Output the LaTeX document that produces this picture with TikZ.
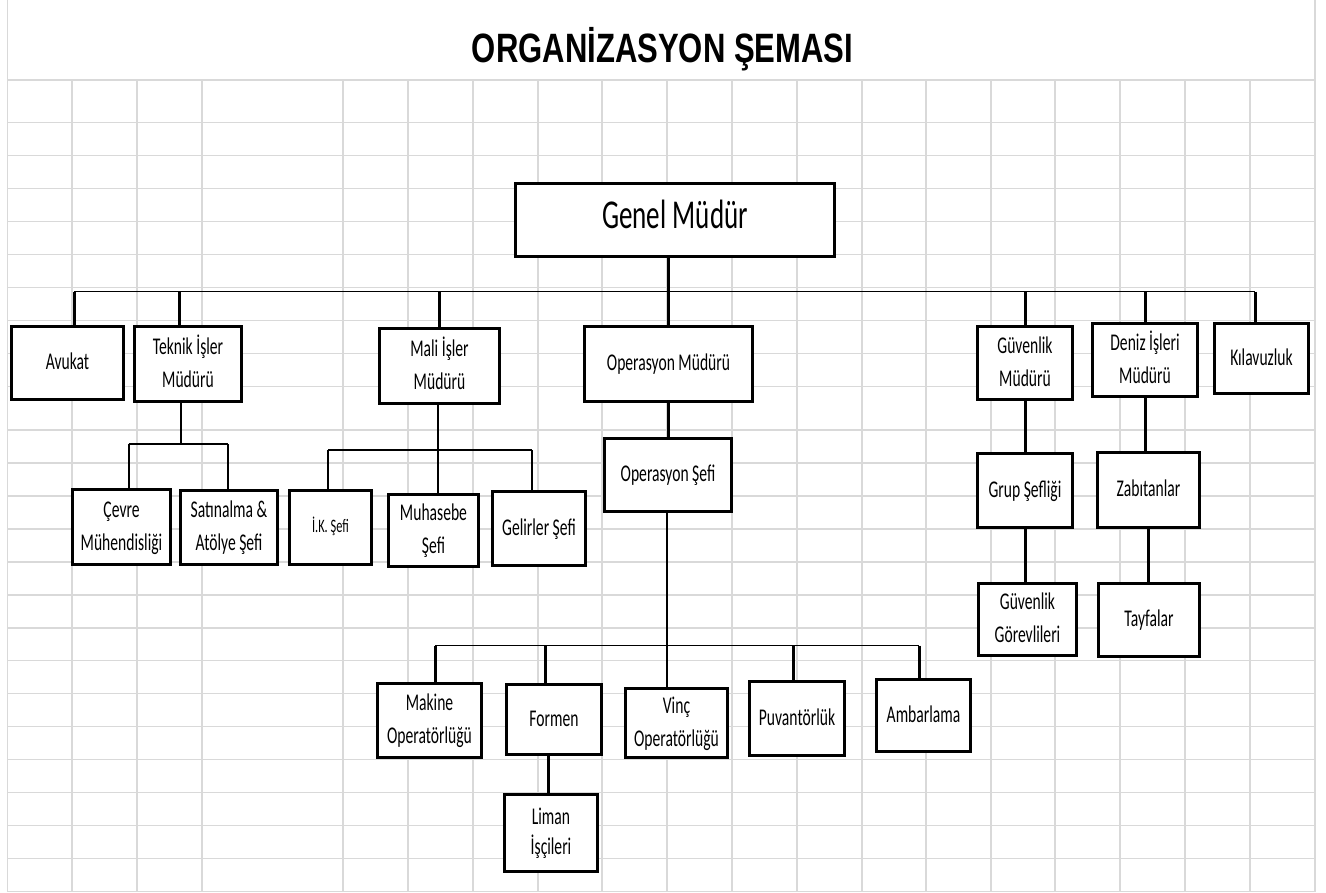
\documentclass[tikz,border=0pt]{standalone}
\usepackage{fontspec}
\usepackage{graphicx}
\newfontfamily\boxfont{Carlito}
\newfontfamily\headfont{Liberation Sans}
\definecolor{gridgray}{HTML}{D9D9D9}

% condensed, centred multi-line label
\newcommand\sq[2][0.65]{\scalebox{#1}[1]{\begin{tabular}{@{}c@{}}#2\end{tabular}}}
% box from its outer corners (x1,y1)-(x2,y2)
\newcommand\orgnode[7][]{\node[orgbox,#1,minimum width={#5-#3-3},minimum height={#6-#4-3}]
  (#2) at ({(#3+#5)/2},{(#4+#6)/2}) {#7};}

\tikzset{
  orgbox/.style={draw=black, fill=white, line width=3pt, inner sep=0pt,
    font=\boxfont\fontsize{24}{33}\selectfont},
  heavy/.style={line width=3pt},
  medium/.style={line width=2pt},
  busline/.style={line width=1.5pt},
  cell/.style={draw=gridgray, line width=1.4pt}
}

\begin{document}
\begin{tikzpicture}[x=1pt,y=-1pt]
\fill[white] (0,0) rectangle (1326,893);
\useasboundingbox (0,0) rectangle (1326,893);

% spreadsheet grid
\foreach \x in {72,137,202,343,408,473,538,602,667,732,797,862,926,991,1055,1120,1185,1250}
  \draw[cell] (\x,80) -- (\x,891.7);
\draw[cell] (7.3,0) -- (7.3,891.7);
\draw[cell] (1315,0) -- (1315,891.7);
\foreach \y in {80,122.7,155.7,188.7,221.7,254.7,287.7,320.7,353.7,386.7,
                430,462.9,495.9,528.9,561.9,594.8,627.8,660.7,693.7,726.7,759.7,792.7,825.7,858.7,891.7}
  \draw[cell] (7.3,\y) -- (1315,\y);

% heading
\node[font=\headfont\bfseries\fontsize{41}{41}\selectfont, anchor=base, inner sep=0pt]
  (title) at (662.5,63) {\scalebox{0.757}[1]{ORGANİZASYON ŞEMASI}};

% boxes
\orgnode[font=\boxfont\fontsize{41}{41}\selectfont]{gm}{514}{182}{836}{258}{\sq[0.66]{Genel Müdür}}
\orgnode{avukat}{10}{325}{125}{401}{\sq{Avukat}}
\orgnode{teknik}{133}{325}{243}{403}{\sq{Teknik İşler\\Müdürü}}
\orgnode{mali}{378}{327}{501}{405}{\sq{Mali İşler\\Müdürü}}
\orgnode{opm}{583}{325}{754}{403}{\sq{Operasyon Müdürü}}
\orgnode{guvm}{976}{325}{1074}{401}{\sq{Güvenlik\\Müdürü}}
\orgnode{deniz}{1091}{322}{1199}{398}{\sq{Deniz İşleri\\Müdürü}}
\orgnode{kilavuz}{1213}{322}{1310}{395}{\sq{Kılavuzluk}}

\orgnode{cevre}{71}{488}{172}{566}{\sq{Çevre\\Mühendisliği}}
\orgnode{satin}{179}{489}{279}{566}{\sq{Satınalma \&\\Atölye Şefi}}
\orgnode[font=\boxfont\fontsize{19}{26}\selectfont]{ik}{288}{489}{373}{566}{\sq{İ.K. Şefi}}
\orgnode{muhasebe}{387}{493}{480}{568}{\sq{Muhasebe\\Şefi}}
\orgnode{gelirler}{491}{490}{587}{567}{\sq{Gelirler Şefi}}
\orgnode{ops}{603}{437}{733}{513}{\sq{Operasyon Şefi}}

\orgnode{grup}{976}{452}{1074}{529}{\sq{Grup Şefliği}}
\orgnode{zabit}{1096}{451}{1201}{529}{\sq{Zabıtanlar}}
\orgnode{guvg}{977}{582}{1078}{657}{\sq{Güvenlik\\Görevlileri}}
\orgnode{tayfa}{1097}{582}{1201}{658}{\sq{Tayfalar}}

\orgnode{makine}{376}{682}{483}{759}{\sq{Makine\\Operatörlüğü}}
\orgnode{formen}{505}{683}{603}{756}{\sq{Formen}}
\orgnode{vinc}{624}{687}{729}{759}{\sq{Vinç\\Operatörlüğü}}
\orgnode{puvan}{748}{680}{846}{757}{\sq{Puvantörlük}}
\orgnode{ambar}{875}{678}{972}{753}{\sq{Ambarlama}}
\orgnode[font=\boxfont\fontsize{24}{30}\selectfont]{liman}{503}{793}{599}{873}{\sq{Liman\\İşçileri}}

% top level
\draw[heavy] (opm.north |- gm.south) -- (opm.north);
\coordinate (busL) at (74,291.7);
\coordinate (busR) at (1255,291.7);
\coordinate (jT) at (179.3,291.7);
\draw[busline] (busL) -- (busR);
\draw[heavy] (busL) -- (busL |- avukat.north);
\draw[heavy] (jT) -- (jT |- teknik.north);
\draw[heavy] (mali.north |- busL) -- (mali.north);
\draw[heavy] (guvm.north |- busL) -- (guvm.north);
\draw[heavy] (deniz.north |- busL) -- (deniz.north);
\draw[heavy] (busR) -- (busR |- kilavuz.north);

% technical branch
\coordinate (tk) at (181,444.3);
\coordinate (tkL) at (128.7,444.3);
\coordinate (tkR) at (228.3,444.3);
\draw[medium] (teknik.south -| tk) -- (tk);
\draw[medium] (tkL) -- (tkR);
\draw[medium] (tkL) -- (tkL |- cevre.north);
\draw[medium] (tkR) -- (tkR |- satin.north);

% finance branch
\coordinate (mk) at (437.7,450);
\coordinate (mkL) at (328.3,450);
\coordinate (mkR) at (531.7,450);
\draw[medium] (mali.south -| mk) -- (mk |- muhasebe.north);
\draw[medium] (mkL) -- (mkR);
\draw[medium] (mkL) -- (mkL |- ik.north);
\draw[medium] (mkR) -- (mkR |- gelirler.north);

% operations branch
\draw[heavy] (ops.north |- opm.south) -- (ops.north);
\coordinate (oj) at (666.7,645.7);
\coordinate (obL) at (435.3,645.7);
\coordinate (obR) at (919,645.7);
\coordinate (oF) at (545.3,645.7);
\coordinate (oP) at (793.3,645.7);
\coordinate (fl) at (548.7,775);
\draw[medium] (ops.south -| oj) -- (oj |- vinc.north);
\draw[busline] (obL) -- (obR);
\draw[heavy] (obL) -- (obL |- makine.north);
\draw[heavy] (oF) -- (oF |- formen.north);
\draw[heavy] (oP) -- (oP |- puvan.north);
\draw[heavy] (obR) -- (obR |- ambar.north);
\draw[heavy] (formen.south -| fl) -- (liman.north -| fl);

% security and marine branches
\draw[heavy] (guvm.south) -- (guvm.south |- grup.north);
\draw[heavy] (grup.south) -- (grup.south |- guvg.north);
\draw[heavy] (deniz.south) -- (deniz.south |- zabit.north);
\draw[heavy] (zabit.south) -- (zabit.south |- tayfa.north);
\end{tikzpicture}
\end{document}
